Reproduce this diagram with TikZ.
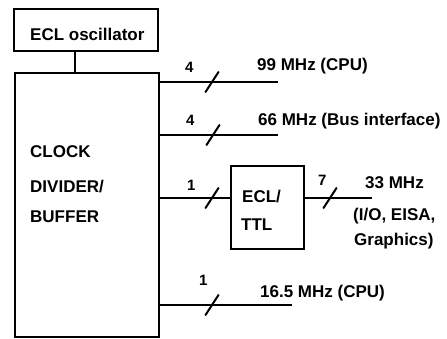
\documentclass[tikz,border=0pt]{standalone}
\usepackage{fontspec}
\setmainfont{Liberation Sans}
\begin{document}
\begin{tikzpicture}[x=1pt,y=-1pt,
  blk/.style={draw, line width=2pt, rectangle, inner sep=0pt, anchor=north west},
  txt/.style={anchor=base west, inner sep=0pt, font=\fontsize{17}{20}\selectfont\bfseries},
  num/.style={anchor=base west, inner sep=0pt, font=\fontsize{15}{17}\selectfont\bfseries},
  wire/.style={line width=2pt},
  busslash/.pic={\draw[line width=2pt, line cap=round] (-6.5,10) -- (6.5,-10);}
]
\useasboundingbox (0,0) rectangle (447,338);

% blocks
\node[blk, minimum width=144pt, minimum height=42pt] (osc) at (13,8) {};
\node[txt] (osctxt) at (30,40) {ECL oscillator};

\node[blk, minimum width=144pt, minimum height=264pt] (cdb) at (14,72) {};
\node[txt] (t1) at (30,157) {CLOCK};
\node[txt] (t2) at (30,192) {DIVIDER/};
\node[txt] (t3) at (30,222) {BUFFER};

\node[blk, minimum width=73pt, minimum height=83pt] (conv) at (230,165) {};
\node[txt] (c1) at (242,202) {ECL/};
\node[txt] (c2) at (241,230) {TTL};

% oscillator to divider
\draw[wire] ([xshift=-11pt]osc.south) -- ([xshift=-11pt]osc.south |- cdb.north);

% free ends
\coordinate (e1) at (278,82);
\coordinate (e2) at (278,135);
\coordinate (e3) at (372,198);
\coordinate (e4) at (292,305);

\draw[wire] (cdb.east |- e1) -- (e1);
\draw[wire] (cdb.east |- e2) -- (e2);
\draw[wire] (cdb.east |- e3) -- (conv.west |- e3);
\draw[wire] (conv.east |- e3) -- (e3);
\draw[wire] (cdb.east |- e4) -- (e4);

% bus slashes
\pic at (212,82) {busslash};
\pic at (213,135) {busslash};
\pic at (212,198) {busslash};
\pic at (330,198) {busslash};
\pic at (212,305) {busslash};

% widths
\node[num] (n1) at (185,72) {4};
\node[num] (n2) at (186,125) {4};
\node[num] (n3) at (187,190) {1};
\node[num] (n4) at (318,185) {7};
\node[num] (n5) at (199,285) {1};

% labels
\node[txt] (l1) at (257,70) {99 MHz (CPU)};
\node[txt] (l2) at (258,125) {66 MHz (Bus interface)};
\node[txt] (l3) at (365,188) {33 MHz};
\node[txt] (l3b) at (353,220) {(I/O, EISA,};
\node[txt] (l3c) at (354,245) {Graphics)};
\node[txt] (l4) at (260,297) {16.5 MHz (CPU)};
\end{tikzpicture}
\end{document}
